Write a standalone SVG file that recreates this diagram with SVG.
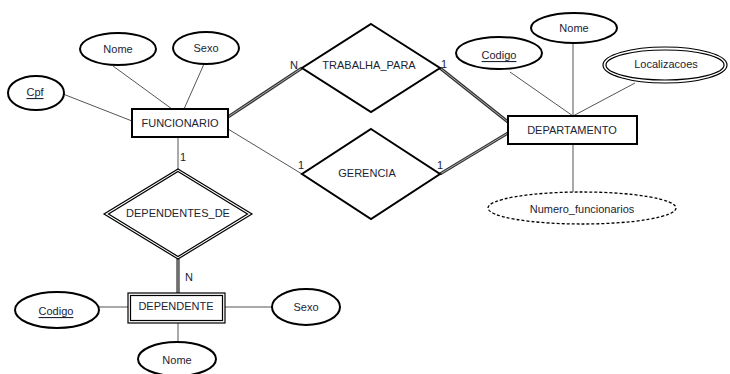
<svg xmlns="http://www.w3.org/2000/svg" width="730" height="374" viewBox="0 0 730 374">
<style>
.sh{fill:#fff;stroke:#000;stroke-width:2}
.th{fill:none;stroke:#000;stroke-width:1.2}
.ln{stroke:#555;stroke-width:1;fill:none}
.dbo{stroke:#333;stroke-width:3.2;fill:none}
.dbi{stroke:#aaa;stroke-width:1;fill:none}
text{font-family:"Liberation Sans",Arial,sans-serif;font-size:11px;fill:#1c2333;text-anchor:middle;dominant-baseline:central}
.u{text-decoration:underline}
</style>
<rect width="730" height="374" fill="#fff"/>
<g id="connectors">
<line class="ln" x1="113" y1="66" x2="172" y2="109"/>
<line class="ln" x1="204" y1="64" x2="184" y2="109"/>
<line class="ln" x1="63" y1="94" x2="132" y2="121"/>
<line class="dbo" x1="228" y1="117" x2="302" y2="68"/>
<line class="dbi" x1="228" y1="117" x2="302" y2="68"/>
<line class="ln" x1="228" y1="129" x2="302" y2="174"/>
<line class="dbo" x1="440" y1="68" x2="508" y2="122"/>
<line class="dbi" x1="440" y1="68" x2="508" y2="122"/>
<line class="dbo" x1="440" y1="174" x2="508" y2="133"/>
<line class="dbi" x1="440" y1="174" x2="508" y2="133"/>
<line class="ln" x1="510" y1="72" x2="573" y2="116"/>
<line class="ln" x1="573" y1="43" x2="573" y2="116"/>
<line class="ln" x1="635" y1="83" x2="573" y2="116"/>
<line class="ln" x1="573" y1="144" x2="573" y2="192"/>
<line class="ln" x1="178" y1="137" x2="178" y2="169"/>
<line class="dbo" x1="178" y1="259" x2="178" y2="293"/>
<line class="dbi" x1="178" y1="259" x2="178" y2="293"/>
<line class="ln" x1="99" y1="307" x2="128" y2="307"/>
<line class="ln" x1="225" y1="307" x2="272" y2="307"/>
<line class="ln" x1="178" y1="323" x2="178" y2="342"/>
</g>
<g id="cardinalities">
<text x="294" y="65">N</text>
<text x="444" y="64">1</text>
<text x="301" y="165">1</text>
<text x="440" y="165">1</text>
<text x="183" y="157">1</text>
<text x="189" y="277">N</text>
</g>
<g id="funcionario"><rect class="sh" x="132" y="109" width="96" height="28"/><text x="180" y="123">FUNCIONARIO</text></g>
<g id="func-nome"><ellipse class="sh" cx="118" cy="49" rx="38" ry="16"/><text x="118" y="49">Nome</text></g>
<g id="func-sexo"><ellipse class="sh" cx="206" cy="48" rx="33" ry="16"/><text x="206" y="48">Sexo</text></g>
<g id="func-cpf"><ellipse class="sh" cx="36" cy="93" rx="28" ry="17"/><text class="u" x="35" y="92">Cpf</text></g>
<g id="trabalha-para"><polygon class="sh" points="371,24 440,68 371,112 302,68"/><text x="369" y="65">TRABALHA_PARA</text></g>
<g id="gerencia"><polygon class="sh" points="371,129 440,174 371,219 302,174"/><text x="367" y="173">GERENCIA</text></g>
<g id="departamento"><rect class="sh" x="508" y="116" width="129" height="28"/><text x="572" y="130">DEPARTAMENTO</text></g>
<g id="dep-nome"><ellipse class="sh" cx="574" cy="28" rx="43" ry="15"/><text x="574" y="28">Nome</text></g>
<g id="dep-codigo"><ellipse class="sh" cx="499" cy="53" rx="43" ry="16"/><text class="u" x="499" y="55">Codigo</text></g>
<g id="localizacoes"><ellipse class="th" cx="665" cy="65" rx="62" ry="18"/><ellipse class="th" cx="665" cy="65" rx="59" ry="15"/><text x="666" y="64">Localizacoes</text></g>
<g id="numero-funcionarios"><ellipse cx="582" cy="208" rx="94" ry="16" fill="#fff" stroke="#000" stroke-width="1.3" stroke-dasharray="3,2"/><text x="582" y="209">Numero_funcionarios</text></g>
<g id="dependentes-de"><polygon class="th" points="178,169 252,214 178,259 104,214"/><polygon class="th" points="178,171.5 247.5,214 178,256.5 108.5,214"/><text x="178" y="213">DEPENDENTES_DE</text></g>
<g id="dependente"><rect class="th" x="128" y="293" width="97" height="30"/><rect class="th" x="130.5" y="295.5" width="92" height="25"/><text x="176" y="306">DEPENDENTE</text></g>
<g id="dept-codigo"><ellipse class="sh" cx="57" cy="310" rx="42" ry="18"/><text class="u" x="56" y="311">Codigo</text></g>
<g id="dept-sexo"><ellipse class="sh" cx="306" cy="307" rx="34" ry="18"/><text x="306" y="307">Sexo</text></g>
<g id="dept-nome"><ellipse class="sh" cx="177" cy="359" rx="39" ry="17"/><text x="177" y="360">Nome</text></g>
</svg>
